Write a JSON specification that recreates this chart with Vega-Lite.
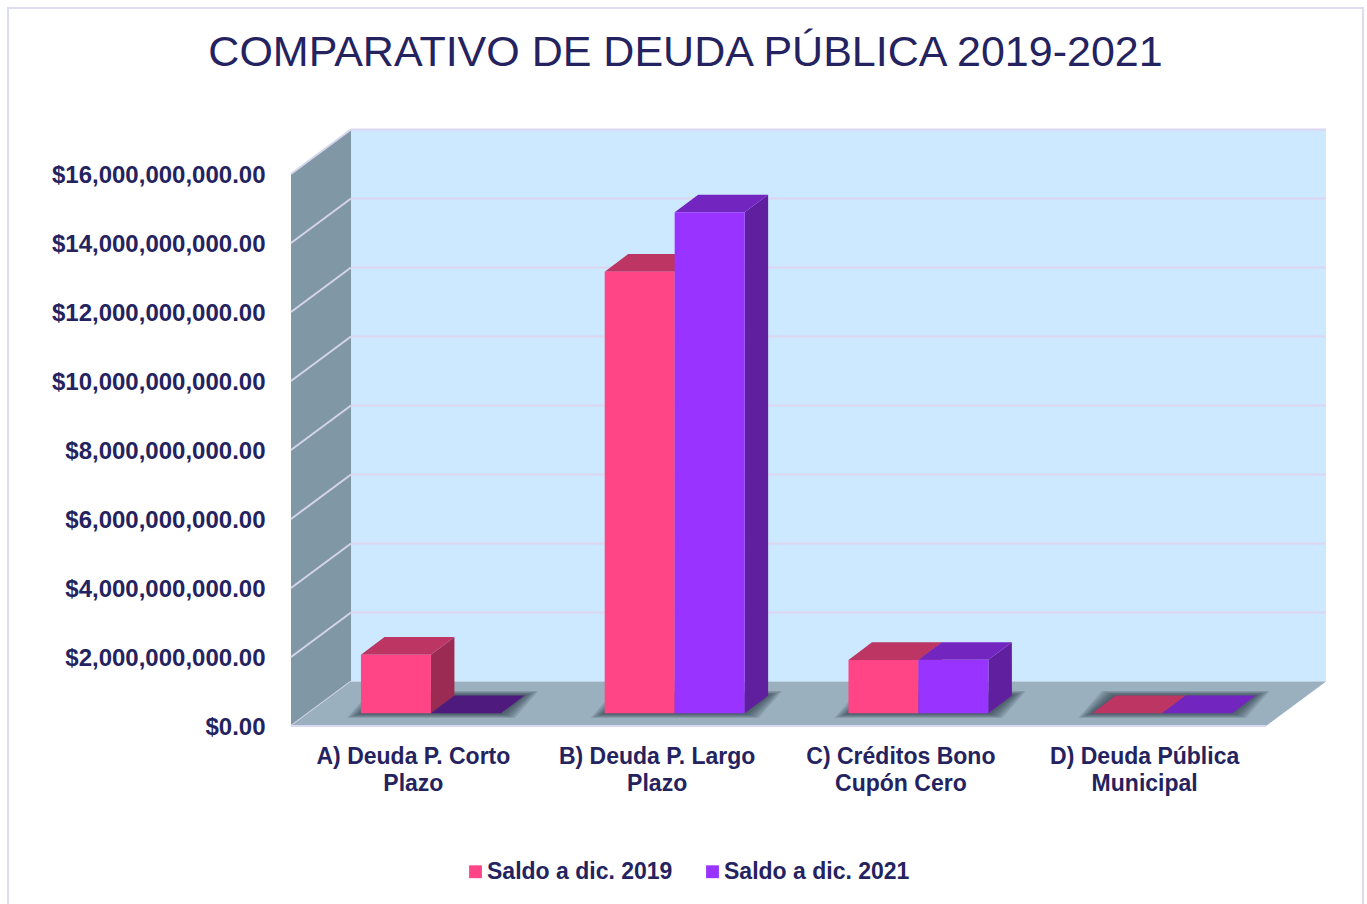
{"$schema":"https://vega.github.io/schema/vega-lite/v6.json","width":1355,"height":897,"autosize":"none","padding":{"left":8,"top":8,"right":4,"bottom":-1},"background":"white","config":{"view":{"stroke":"#dcdcf2","strokeWidth":2},"font":"Liberation Sans"},"title":{"text":"COMPARATIVO DE DEUDA PÚBLICA 2019-2021","anchor":"middle","frame":"group","offset":-67,"fontSize":43,"font":"Liberation Sans","fontWeight":"normal","color":"#24235f","limit":1300},"datasets":{"saldos":[{"categoria":"A) Deuda P. Corto Plazo","serie":"Saldo a dic. 2019","saldo":1700000000},{"categoria":"A) Deuda P. Corto Plazo","serie":"Saldo a dic. 2021","saldo":0},{"categoria":"B) Deuda P.  Largo Plazo","serie":"Saldo a dic. 2019","saldo":12800000000},{"categoria":"B) Deuda P.  Largo Plazo","serie":"Saldo a dic. 2021","saldo":14520000000},{"categoria":"C) Créditos Bono Cupón Cero","serie":"Saldo a dic. 2019","saldo":1545000000},{"categoria":"C) Créditos Bono Cupón Cero","serie":"Saldo a dic. 2021","saldo":1550000000},{"categoria":"D) Deuda Pública Municipal","serie":"Saldo a dic. 2019","saldo":5000000},{"categoria":"D) Deuda Pública Municipal","serie":"Saldo a dic. 2021","saldo":5000000}],"ticks":[{"v":0},{"v":2000000000},{"v":4000000000},{"v":6000000000},{"v":8000000000},{"v":10000000000},{"v":12000000000},{"v":14000000000},{"v":16000000000}],"depth":[{"d":0},{"d":1}]},"encoding":{"x":{"field":"x","type":"quantitative","stack":null,"title":null,"scale":{"domain":[0,4.246],"range":[283,1318],"nice":false,"zero":false},"axis":{"values":[0.5,1.5,2.5,3.5],"labelExpr":"split(['A) Deuda P. Corto|Plazo','B) Deuda P. Largo|Plazo','C) Créditos Bono|Cupón Cero','D) Deuda Pública|Municipal'][floor(datum.value)],'|')","offset":-179,"grid":false,"ticks":false,"domain":false,"labelPadding":19,"labelFontSize":23,"labelFontWeight":"bold","labelLineHeight":27,"labelColor":"#24235f","labelOverlap":false,"labelBound":false,"labelFlush":false,"labelLimit":0,"labelFont":"Liberation Sans"}},"y":{"field":"y","type":"quantitative","stack":null,"title":null,"scale":{"domain":[0,17304000000],"range":[718,121],"nice":false,"zero":false},"axis":{"values":[0,2000000000,4000000000,6000000000,8000000000,10000000000,12000000000,14000000000,16000000000],"format":"$,.2f","offset":-283,"grid":false,"ticks":false,"domain":false,"labelPadding":26,"labelOffset":1.5,"labelFontSize":24,"labelFontWeight":"bold","labelColor":"#24235f","labelOverlap":false,"labelBound":false,"labelFlush":false,"labelLimit":0,"labelFont":"Liberation Sans"}}},"layer":[{"data":{"name":"depth"},"transform":[{"filter":"datum.d===0"},{"calculate":"0.2462","as":"x"},{"calculate":"4.246","as":"x2"},{"calculate":"1290000000","as":"y"},{"calculate":"17304000000","as":"y2"}],"mark":{"type":"rect","fill":"#cce9ff"},"encoding":{"x2":{"field":"x2"},"y2":{"field":"y2"}}},{"data":{"name":"ticks"},"transform":[{"filter":"datum.v>0"},{"calculate":"0.2462","as":"x"},{"calculate":"4.246","as":"x2"},{"calculate":"datum.v+1290000000","as":"y"}],"mark":{"type":"rule","stroke":"#dcd6f0","strokeWidth":2},"encoding":{"x2":{"field":"x2"}}},{"data":{"name":"depth"},"transform":[{"calculate":"datum.d*0.2462","as":"x"},{"calculate":"16000000000+datum.d*1290000000","as":"y"},{"calculate":"datum.d*1290000000","as":"y2"}],"mark":{"type":"area","orient":"vertical","fill":"#8097a5"},"encoding":{"y2":{"field":"y2"}}},{"data":{"name":"ticks"},"transform":[{"calculate":"0","as":"x"},{"calculate":"0.2462","as":"x2"},{"calculate":"datum.v","as":"y"},{"calculate":"datum.v+1290000000","as":"y2"}],"mark":{"type":"rule","stroke":"#d4d4ea","strokeWidth":2},"encoding":{"x2":{"field":"x2"},"y2":{"field":"y2"}}},{"data":{"name":"depth"},"transform":[{"calculate":"datum.d*0.2462","as":"x"},{"calculate":"4+datum.d*0.2462","as":"x2"},{"calculate":"datum.d*1290000000","as":"y"}],"mark":{"type":"area","orient":"horizontal","fill":"#9ab0be"},"encoding":{"x2":{"field":"x2"}}},{"data":{"name":"ticks"},"transform":[{"filter":"datum.v===0"},{"calculate":"0","as":"x"},{"calculate":"4","as":"x2"},{"calculate":"datum.v","as":"y"}],"mark":{"type":"rule","stroke":"#d8d8f0","strokeWidth":2},"encoding":{"x2":{"field":"x2"}}},{"data":{"name":"saldos"},"transform":[{"filter":"datum.serie==='Saldo a dic. 2019'"},{"calculate":"indexof('ABCD',substring(datum.categoria,0,1))","as":"idx"},{"calculate":"[0,1]","as":"d"},{"flatten":["d"]},{"calculate":"[2,4,6,8,10,12,14]","as":"e"},{"flatten":["e"]},{"calculate":"datum.idx+0.287-datum.e/243.75+datum.d*0.0964","as":"x"},{"calculate":"datum.idx+0.861+datum.e/243.75+datum.d*0.0964","as":"x2"},{"calculate":"368000000+datum.d*513000000+(datum.d*2-1)*datum.e/3*29000000","as":"y"}],"mark":{"type":"area","orient":"horizontal","fill":"#2e3a44","fillOpacity":0.14},"encoding":{"x2":{"field":"x2"},"detail":[{"field":"categoria"},{"field":"e"}]}},{"data":{"name":"saldos"},"transform":[{"calculate":"indexof('ABCD',substring(datum.categoria,0,1))+0.574+(datum.serie==='Saldo a dic. 2021'?0.287:0)","as":"x0"},{"calculate":"[0,1]","as":"d"},{"flatten":["d"]},{"calculate":"datum.x0+datum.d*0.0964","as":"x"},{"calculate":"datum.saldo+368000000+datum.d*513000000","as":"y"},{"calculate":"368000000+datum.d*513000000","as":"y2"}],"mark":{"type":"area","orient":"vertical"},"encoding":{"y2":{"field":"y2"},"detail":{"field":"categoria"},"color":{"field":"serie","type":"nominal","legend":null,"scale":{"domain":["Saldo a dic. 2019","Saldo a dic. 2021"],"range":["#9c2b54","#601f9f"]}}}},{"data":{"name":"saldos"},"transform":[{"calculate":"indexof('ABCD',substring(datum.categoria,0,1))+0.287+(datum.serie==='Saldo a dic. 2021'?0.287:0)","as":"x0"},{"calculate":"[0,1]","as":"d"},{"flatten":["d"]},{"calculate":"datum.x0+datum.d*0.0964","as":"x"},{"calculate":"datum.x0+0.287+datum.d*0.0964","as":"x2"},{"calculate":"datum.saldo+368000000+datum.d*513000000","as":"y"}],"mark":{"type":"area","orient":"horizontal"},"encoding":{"x2":{"field":"x2"},"detail":{"field":"categoria"},"color":{"condition":{"test":"datum.saldo===0","value":"#4f1a7d"},"field":"serie","type":"nominal","legend":null,"scale":{"domain":["Saldo a dic. 2019","Saldo a dic. 2021"],"range":["#bc3563","#7326bf"]}}}},{"data":{"name":"saldos"},"transform":[{"calculate":"indexof('ABCD',substring(datum.categoria,0,1))+0.287+(datum.serie==='Saldo a dic. 2021'?0.287:0)","as":"x"},{"calculate":"datum.x+0.287","as":"x2"},{"calculate":"datum.saldo+368000000","as":"y"},{"calculate":"368000000","as":"y2"}],"mark":{"type":"rect"},"encoding":{"x2":{"field":"x2"},"y2":{"field":"y2"},"color":{"field":"serie","type":"nominal","scale":{"domain":["Saldo a dic. 2019","Saldo a dic. 2021"],"range":["#ff4586","#9933ff"]},"legend":{"orient":"none","legendX":456,"legendY":852,"direction":"horizontal","title":null,"symbolType":"square","symbolSize":165,"symbolStrokeWidth":0,"labelFontSize":23,"labelFont":"Liberation Sans","labelFontWeight":"bold","labelLimit":0,"labelColor":"#24235f","labelOffset":0,"columnPadding":28,"symbolOpacity":1,"padding":0}}}}],"resolve":{"scale":{"color":"independent"}}}
